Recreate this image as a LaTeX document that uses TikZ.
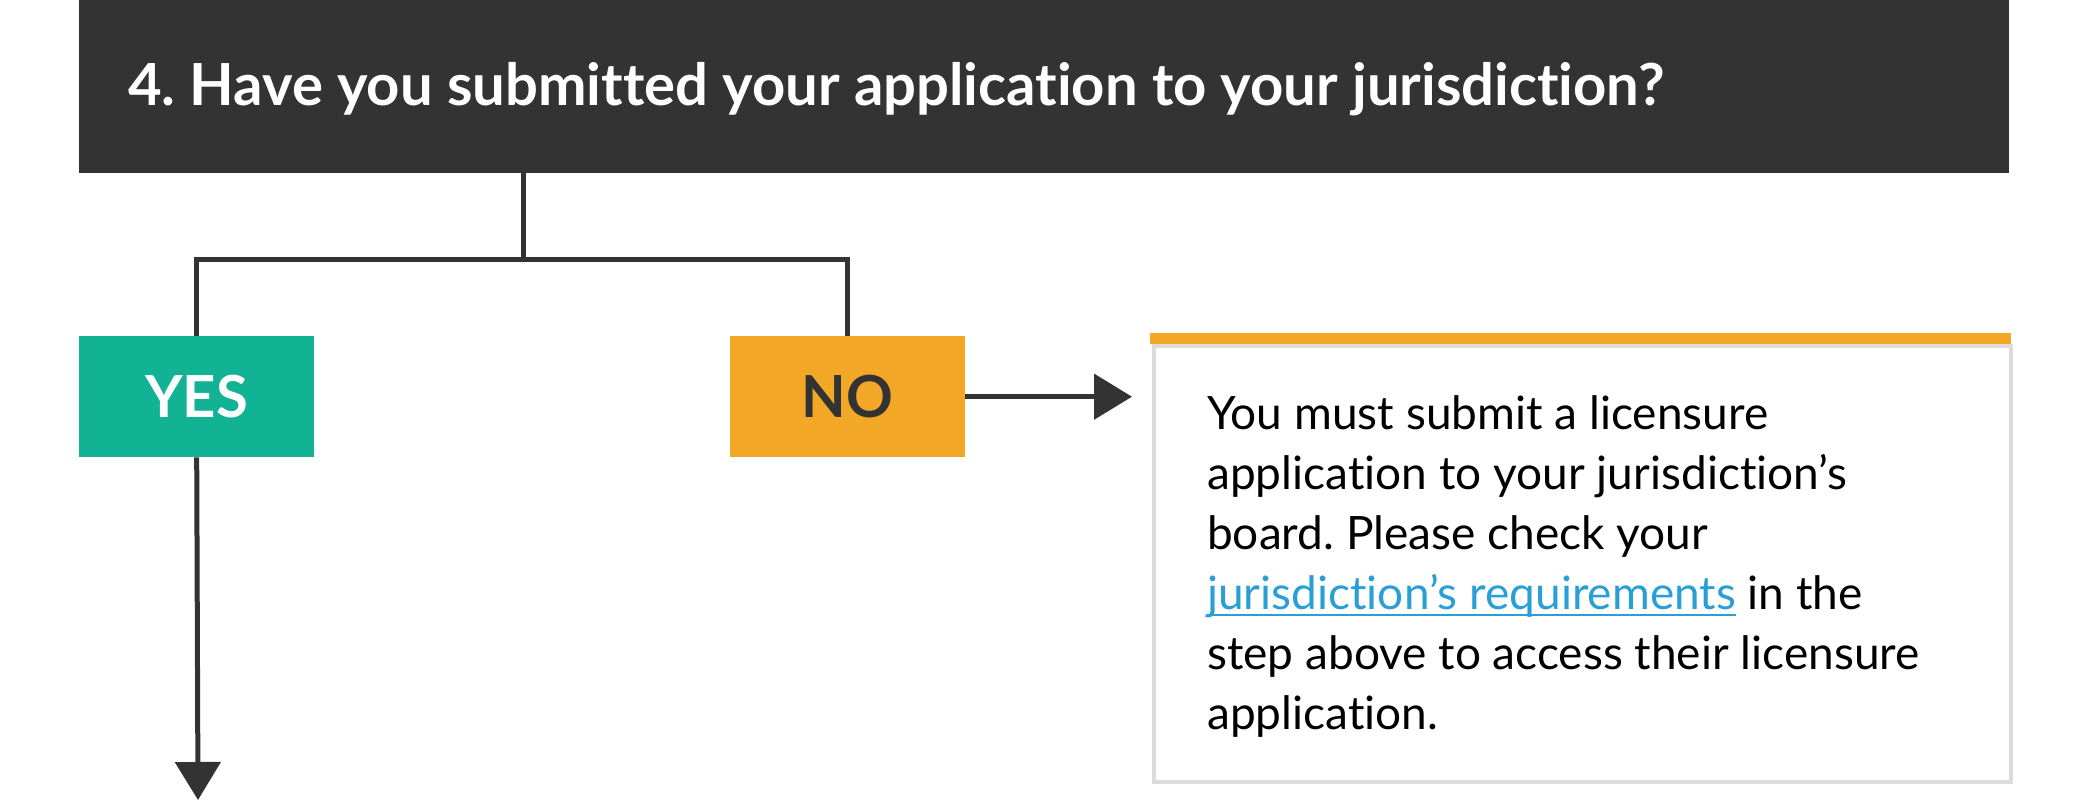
\documentclass[tikz,border=0pt]{standalone}
\usepackage{fontspec}
\setmainfont{Lato}[Ligatures=NoCommon]
\usetikzlibrary{arrows.meta}
\definecolor{hdr}{HTML}{333333}
\definecolor{teal}{HTML}{12B294}
\definecolor{orng}{HTML}{F2A727}
\definecolor{boxgray}{HTML}{DCDCDC}
\definecolor{link}{HTML}{2A9FD6}
\newcommand\lnk[1]{\setbox0\hbox{#1}\rlap{\rule[-7pt]{\wd0}{2pt}}\box0}
\frenchspacing
\begin{document}
\begin{tikzpicture}[x=1pt,y=-1pt,
  conn/.style={draw=hdr,line width=5pt},
  arr/.style={conn,-{Triangle[length=38pt,width=45pt]}},
  choice/.style={minimum width=235pt,minimum height=121pt,inner sep=0pt,anchor=north west,font=\fontsize{58}{60}\selectfont\bfseries}]
\useasboundingbox (0,0) rectangle (2084,802);
\node[fill=hdr,minimum width=1930pt,minimum height=173pt,inner sep=0pt,anchor=north west] (hdr) at (79,0) {};
\node[anchor=base west,inner sep=0pt,text=white,font=\fontsize{58}{60}\selectfont\bfseries] (title) at (128,106)
  {4. Have you submitted your application to your jurisdiction?};
\node[choice,fill=teal,text=white] (yes) at (79,336) {YES};
\node[choice,fill=orng,text=hdr] (no) at (730,336) {NO};
\coordinate (j) at (523,260);
\coordinate (yend) at (198,800);
\draw[conn] (hdr.south -| j) -- (j);
\draw[conn] (yes.north) |- (j) -| (no.north);
\draw[arr] (yes.south) -- (yend);
\node[draw=boxgray,line width=4pt,minimum width=857pt,minimum height=436pt,inner sep=0pt,anchor=north west] (msg) at (1152,344) {};
\fill[orng] (1150,333) rectangle (2011,344);
\draw[arr,shorten >=20pt] (no.east) -- (msg.west |- no.east);
\node[anchor=base west,inner sep=0pt,align=left,font=\fontsize{46}{60}\selectfont] (msgtext) at (1207,729)
  {You must submit a licensure\\
   application to your jurisdiction’s\\
   board. Please check your\\
   {\color{link}\lnk{jurisdiction’s requirements}} in the\\
   step above to access their licensure\\
   application.};
\end{tikzpicture}
\end{document}
